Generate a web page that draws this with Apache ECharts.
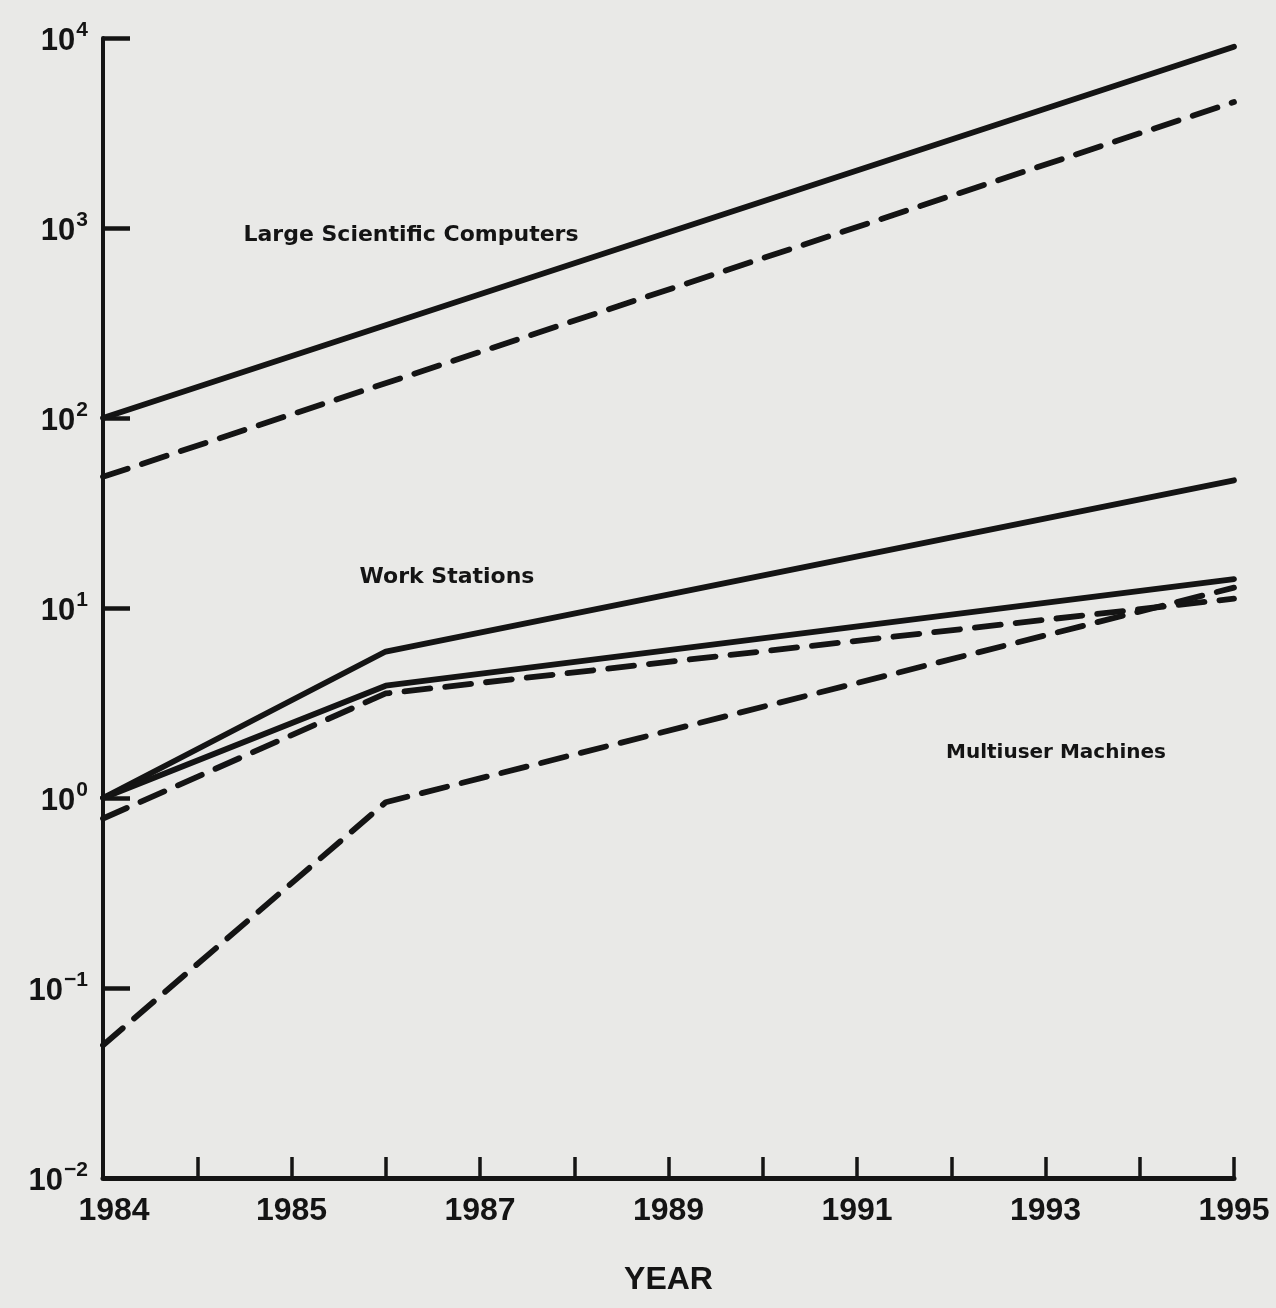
<!DOCTYPE html>
<html>
<head>
<meta charset="utf-8">
<script src="https://cdn.jsdelivr.net/npm/echarts@6/dist/echarts.min.js"></script>
<style>
  html, body { margin: 0; padding: 0; background: #e9e9e7; }
  #chart { width: 1276px; height: 1308px; }
</style>
</head>
<body>
<div id="chart"></div>
<script>
// tick positions along the year axis (only every other one is labelled)
const years = ['1984', '', '1985', '1986', '1987', '1988', '1989', '1990', '1991', '1992', '1993', '1994', '1995'];
const yTicks = [0.01, 0.1, 1, 10, 100, 1000, 10000];

// values; null = no point there (line runs straight through)
const largeSolid  = [100,  null, null, null, null, null, null, null, null, null, null, null, 9000];
const largeDashed = [49,   null, null, null, null, null, null, null, null, null, null, null, 4600];
const wsSolid     = [1.0,  null, null, 5.9,  null, null, null, null, null, null, null, null, 47];
const wsDashed    = [1.0,  null, null, 3.9,  null, null, null, null, null, null, null, null, 14.2];
const muSolid     = [0.78, null, null, 3.55, null, null, null, null, null, null, null, null, 11.2];
const muDashed    = [0.05, null, null, 0.95, null, null, null, null, null, null, null, null, 12.8];

const INK = '#141414';
const FONT = '"Liberation Sans Narrow", "Liberation Sans", Arial, sans-serif';
const LABEL_FONT = '"DejaVu Sans", "Liberation Sans", sans-serif';
const DASH = [26, 15];

const chart = echarts.init(document.getElementById('chart'), null, { renderer: 'canvas' });

function line(name, data, dashed) {
  return {
    name, type: 'line', data, connectNulls: true,
    symbol: 'none', silent: true,
    lineStyle: { color: INK, width: 5.8, type: dashed ? DASH : 'solid', cap: 'round', join: 'round' },
    emphasis: { disabled: true },
  };
}

const sup = e => String(e).replace('-', '\u2212');
const note = (text, x, y, size) => ({
  type: 'text', x, y,
  style: { text, fill: INK, font: 'bold ' + size + 'px ' + LABEL_FONT, textAlign: 'center', textVerticalAlign: 'middle' },
});

chart.setOption({
  backgroundColor: '#e9e9e7',
  animation: false,
  grid: { left: 103, right: 42, top: 38, bottom: 130 },
  xAxis: {
    type: 'category', data: years, boundaryGap: false,
    name: 'YEAR', nameLocation: 'middle', nameGap: 86,
    nameTextStyle: { color: INK, fontSize: 32, fontWeight: 'bold', fontFamily: FONT },
    axisLine: { lineStyle: { color: INK, width: 5 } },
    axisTick: { inside: true, length: 21, interval: 0, lineStyle: { color: INK, width: 3.5 } },
    axisLabel: {
      interval: 1, margin: 17, hideOverlap: false,
      formatter: (v, i) => i === 0 ? '{f|' + v + '}' : '{n|' + v + '}',
      rich: {
        n: { color: INK, fontSize: 32, fontWeight: 'bold', fontFamily: FONT },
        f: { color: INK, fontSize: 32, fontWeight: 'bold', fontFamily: FONT, padding: [0, 0, 0, 22] },
      },
    },
    splitLine: { show: false },
  },
  yAxis: {
    type: 'log', logBase: 10, min: yTicks[0], max: yTicks[yTicks.length - 1], splitNumber: 6,
    axisLine: { show: true, lineStyle: { color: INK, width: 4 } },
    axisTick: { show: true, inside: true, length: 27, lineStyle: { color: INK, width: 4.5 } },
    axisLabel: {
      margin: 15, hideOverlap: false,
      formatter: v => '{b|10}{s|' + sup(Math.round(Math.log10(v))) + '}',
      rich: {
        b: { color: INK, fontSize: 31, fontWeight: 'bold', fontFamily: FONT, padding: [6, 0, 0, 0] },
        s: { color: INK, fontSize: 21, fontWeight: 'bold', fontFamily: FONT, verticalAlign: 'top', padding: [0, 0, 16, 1] },
      },
    },
    splitLine: { show: false },
  },
  graphic: [
    note('Large Scientific Computers', 411, 235, 22),
    note('Work Stations', 447, 577, 22),
    note('Multiuser Machines', 1056, 753, 20),
  ],
  series: [
    line('Large Scientific Computers', largeSolid, false),
    line('Large Scientific Computers (dashed)', largeDashed, true),
    line('Work Stations', wsSolid, false),
    line('Work Stations 2', wsDashed, false),
    line('Multiuser Machines', muSolid, true),
    line('Multiuser Machines 2', muDashed, true),
  ],
});
</script>
</body>
</html>
